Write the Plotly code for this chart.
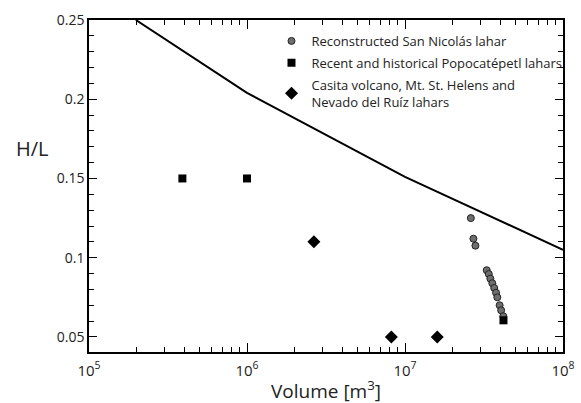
import plotly.graph_objects as go

# Data
line_volume = [1.98e5, 1.0e6, 1.0e7, 1.0e8]
line_hl = [0.25, 0.204, 0.151, 0.105]

san_nicolas_volume = [2.61e7, 2.71e7, 2.79e7, 3.29e7, 3.39e7, 3.47e7, 3.57e7,
                      3.67e7, 3.77e7, 3.84e7, 3.97e7, 4.06e7, 4.19e7]
san_nicolas_hl = [0.125, 0.112, 0.1076, 0.0921, 0.0897, 0.0868, 0.0839,
                  0.0809, 0.0779, 0.0750, 0.0700, 0.0668, 0.0631]

popo_volume = [3.9e5, 1.0e6, 4.2e7]
popo_hl = [0.15, 0.15, 0.0605]

other_volume = [2.65e6, 8.2e6, 1.6e7]
other_hl = [0.11, 0.05, 0.05]

x_tickvals = [1e5, 1e6, 1e7, 1e8]
x_ticktext = ["10<sup>5</sup>", "10<sup>6</sup>", "10<sup>7</sup>", "10<sup>8</sup>"]
x_minor = [m * 10 ** e for e in (5, 6, 7) for m in range(2, 10)]
y_tickvals = [0.05, 0.1, 0.15, 0.2, 0.25]
y_ticktext = ["0.05", "0.1", "0.15", "0.2", "0.25"]

FONT = "Open Sans"

fig = go.Figure()
fig.add_trace(go.Scatter(x=line_volume, y=line_hl, mode="lines",
                         line=dict(color="black", width=2), showlegend=False))
fig.add_trace(go.Scatter(x=san_nicolas_volume, y=san_nicolas_hl, mode="markers",
                         name="Reconstructed San Nicolás lahar", legendgroup="a",
                         marker=dict(symbol="circle", size=7, color="#6e6e6e",
                                     line=dict(color="#222222", width=1))))
fig.add_trace(go.Scatter(x=popo_volume, y=popo_hl, mode="markers",
                         name="Recent and historical Popocatépetl lahars", legendgroup="b",
                         marker=dict(symbol="square", size=8, color="black",
                                     line=dict(width=0))))
fig.add_trace(go.Scatter(x=other_volume, y=other_hl, mode="markers",
                         name="Casita volcano, Mt. St. Helens and<br>Nevado del Ruíz lahars",
                         legendgroup="c",
                         marker=dict(symbol="diamond", size=10, color="black",
                                     line=dict(width=0))))

fig.update_layout(
    width=581, height=403,
    margin=dict(l=89, r=18, t=20, b=51, autoexpand=False),
    paper_bgcolor="white", plot_bgcolor="white",
    font=dict(family=FONT, color="#222222", size=14),
    legend=dict(x=0.385, y=0.982, xanchor="left", yanchor="top",
                bgcolor="rgba(0,0,0,0)", font=dict(size=13, family=FONT),
                tracegroupgap=2, itemwidth=30),
    xaxis=dict(type="log", range=[5, 8], tickmode="array", tickvals=x_tickvals,
               ticktext=x_ticktext, ticks="inside", ticklen=9, tickwidth=1.2,
               tickcolor="black", showline=True, linecolor="black", linewidth=1.5,
               mirror="allticks", showgrid=False, zeroline=False,
               tickfont=dict(size=15), ticklabelstandoff=4,
               minor=dict(tickmode="array", tickvals=x_minor, ticks="inside",
                          ticklen=5, tickwidth=1.2, tickcolor="black", showgrid=False)),
    yaxis=dict(range=[0.0405, 0.25], tickmode="array", tickvals=y_tickvals,
               ticktext=y_ticktext, ticks="inside", ticklen=8, tickwidth=1.2,
               tickcolor="black", showline=True, linecolor="black", linewidth=1.5,
               mirror="allticks", showgrid=False, zeroline=False,
               tickfont=dict(size=14),
               minor=dict(dtick=0.01, tick0=0, ticks="inside", ticklen=5,
                          tickwidth=1.2, tickcolor="black", showgrid=False)),
    annotations=[
        dict(text="H/L", xref="paper", yref="paper", x=-0.12, y=0.614,
             xanchor="center", yanchor="middle", showarrow=False,
             font=dict(size=20, family=FONT)),
        dict(text="Volume [m<sup>3</sup>]", xref="paper", yref="paper", x=0.5, y=-0.162,
             xanchor="center", yanchor="bottom", showarrow=False,
             font=dict(size=19, family=FONT)),
    ],
)

fig.write_html("out.html", config={"displayModeBar": False},
               post_script="document.body.style.margin='0';document.body.style.overflow='hidden';")
